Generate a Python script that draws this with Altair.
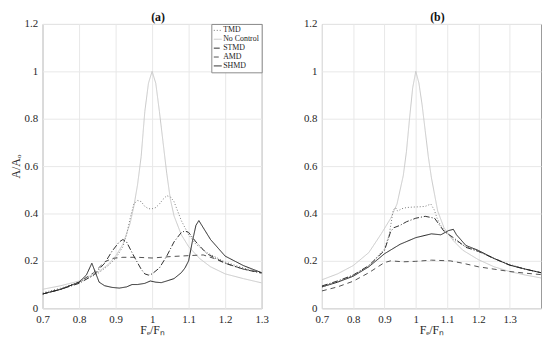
import altair as alt
import pandas as pd

SERIES_ORDER = ["TMD", "No Control", "STMD", "AMD", "SHMD"]
DRAW_ORDER = ["No Control", "TMD", "AMD", "STMD", "SHMD"]
COLORS = ["#7a7a7a", "#c8c8c8", "#303030", "#505050", "#202020"]
DASHES = [[1, 2], [1, 0], [6, 2, 1, 2], [5, 4], [1, 0]]
WIDTHS = [1.0, 1.0, 1.2, 1.0, 1.5]

PANEL_TITLES = ["(a)", "(b)"]

# ---- panel (a) ----
a_nc_x = [0.70, 0.75, 0.80, 0.85, 0.88, 0.90, 0.92, 0.94, 0.95, 0.96, 0.97, 0.98, 0.99, 1.00,
          1.01, 1.02, 1.03, 1.04, 1.05, 1.06, 1.08, 1.10, 1.13, 1.16, 1.20, 1.25, 1.30]
a_nc_y = [0.08, 0.095, 0.115, 0.15, 0.185, 0.22, 0.27, 0.36, 0.43, 0.52, 0.64, 0.83, 0.95, 1.00,
          0.95, 0.83, 0.70, 0.57, 0.46, 0.39, 0.31, 0.26, 0.21, 0.175, 0.145, 0.125, 0.107]

a_tmd_x = [0.70, 0.75, 0.80, 0.85, 0.88, 0.90, 0.92, 0.93, 0.94, 0.95, 0.96, 0.97, 0.98, 0.99, 1.00,
           1.01, 1.02, 1.03, 1.04, 1.05, 1.06, 1.07, 1.08, 1.10, 1.12, 1.15, 1.20, 1.25, 1.30]
a_tmd_y = [0.065, 0.085, 0.11, 0.145, 0.18, 0.21, 0.26, 0.31, 0.38, 0.44, 0.455, 0.45, 0.43, 0.42, 0.42,
           0.425, 0.44, 0.46, 0.475, 0.47, 0.45, 0.41, 0.37, 0.31, 0.27, 0.235, 0.195, 0.17, 0.15]

a_stmd_x = [0.70, 0.75, 0.80, 0.84, 0.87, 0.89, 0.91, 0.92, 0.93, 0.95, 0.97, 0.98, 0.99, 1.00,
            1.02, 1.04, 1.06, 1.08, 1.09, 1.10, 1.12, 1.15, 1.20, 1.25, 1.30]
a_stmd_y = [0.06, 0.08, 0.105, 0.14, 0.19, 0.24, 0.28, 0.29, 0.28, 0.22, 0.165, 0.145, 0.14, 0.145,
            0.17, 0.22, 0.28, 0.32, 0.326, 0.32, 0.28, 0.23, 0.19, 0.165, 0.148]

a_amd_x = [0.70, 0.75, 0.80, 0.84, 0.87, 0.89, 0.92, 0.96, 1.00, 1.05, 1.10, 1.14, 1.17, 1.20, 1.25, 1.30]
a_amd_y = [0.06, 0.08, 0.11, 0.15, 0.195, 0.21, 0.215, 0.215, 0.212, 0.218, 0.222, 0.225, 0.21, 0.19, 0.165, 0.15]

a_shmd_x = [0.70, 0.75, 0.80, 0.82, 0.835, 0.845, 0.855, 0.87, 0.89, 0.91, 0.93, 0.945, 0.96, 0.98,
            0.995, 1.01, 1.025, 1.04, 1.06, 1.08, 1.09, 1.10, 1.11, 1.12, 1.128, 1.14, 1.16, 1.20, 1.25, 1.30]
a_shmd_y = [0.06, 0.08, 0.11, 0.14, 0.19, 0.15, 0.11, 0.095, 0.088, 0.085, 0.09, 0.10, 0.10, 0.105,
            0.115, 0.11, 0.108, 0.115, 0.125, 0.15, 0.17, 0.20, 0.28, 0.35, 0.37, 0.34, 0.29, 0.22, 0.18, 0.15]

# ---- panel (b) ----
b_nc_x = [0.70, 0.75, 0.80, 0.85, 0.89, 0.92, 0.94, 0.96, 0.97, 0.98, 0.99, 1.00, 1.01, 1.02, 1.03,
          1.04, 1.05, 1.07, 1.09, 1.12, 1.15, 1.20, 1.25, 1.30, 1.35, 1.40]
b_nc_y = [0.12, 0.145, 0.18, 0.235, 0.315, 0.38, 0.44, 0.56, 0.66, 0.80, 0.93, 1.00, 0.95, 0.86, 0.75,
          0.64, 0.55, 0.41, 0.34, 0.285, 0.245, 0.205, 0.175, 0.155, 0.14, 0.128]

b_tmd_x = [0.70, 0.75, 0.80, 0.85, 0.90, 0.915, 0.928, 0.935, 0.942, 0.955, 0.97, 0.99, 1.01, 1.03,
           1.048, 1.059, 1.068, 1.075, 1.09, 1.12, 1.16, 1.20, 1.25, 1.30, 1.35, 1.40]
b_tmd_y = [0.09, 0.11, 0.14, 0.18, 0.25, 0.31, 0.415, 0.425, 0.41, 0.42, 0.425, 0.427, 0.428, 0.43,
           0.44, 0.415, 0.38, 0.36, 0.33, 0.29, 0.26, 0.24, 0.21, 0.185, 0.165, 0.15]

b_stmd_x = [0.70, 0.75, 0.80, 0.85, 0.90, 0.92, 0.93, 0.95, 0.97, 1.00, 1.03, 1.06, 1.09, 1.12,
            1.16, 1.20, 1.25, 1.30, 1.35, 1.40]
b_stmd_y = [0.094, 0.115, 0.14, 0.18, 0.244, 0.325, 0.34, 0.35, 0.365, 0.38, 0.388, 0.38, 0.325, 0.298,
            0.257, 0.24, 0.21, 0.182, 0.165, 0.15]

b_amd_x = [0.70, 0.75, 0.80, 0.85, 0.90, 0.92, 0.96, 1.00, 1.05, 1.11, 1.15, 1.20, 1.25, 1.30, 1.35, 1.40]
b_amd_y = [0.073, 0.09, 0.114, 0.15, 0.193, 0.20, 0.196, 0.198, 0.203, 0.20, 0.19, 0.175, 0.165, 0.155, 0.148, 0.142]

b_shmd_x = [0.70, 0.75, 0.80, 0.85, 0.90, 0.95, 1.00, 1.05, 1.08, 1.105, 1.12, 1.13, 1.16, 1.20,
            1.25, 1.30, 1.35, 1.40]
b_shmd_y = [0.09, 0.11, 0.135, 0.175, 0.23, 0.27, 0.298, 0.314, 0.31, 0.328, 0.333, 0.31, 0.265, 0.244,
            0.21, 0.182, 0.165, 0.15]

X_TICKS = [0.7, 0.8, 0.9, 1.0, 1.1, 1.2, 1.3]
Y_TICKS = [0.0, 0.2, 0.4, 0.6, 0.8, 1.0, 1.2]


def build(series):
    rows = []
    for name in DRAW_ORDER:
        xs, ys = series[name]
        for i, (x, y) in enumerate(zip(xs, ys)):
            rows.append({"r": x, "A": y, "series": name, "idx": i})
    return pd.DataFrame(rows)


df_a = build({"No Control": (a_nc_x, a_nc_y), "TMD": (a_tmd_x, a_tmd_y),
              "STMD": (a_stmd_x, a_stmd_y), "AMD": (a_amd_x, a_amd_y),
              "SHMD": (a_shmd_x, a_shmd_y)})
df_b = build({"No Control": (b_nc_x, b_nc_y), "TMD": (b_tmd_x, b_tmd_y),
              "STMD": (b_stmd_x, b_stmd_y), "AMD": (b_amd_x, b_amd_y),
              "SHMD": (b_shmd_x, b_shmd_y)})

FONT = "Liberation Serif"
W, H = 222, 288


def panel(df, xmax, title, ytitle, show_legend):
    if show_legend:
        leg = alt.Legend(title=None, orient="top-right", offset=0, padding=2,
                         strokeColor="#8a8a8a", fillColor="white",
                         labelFont=FONT, labelFontSize=8, labelColor="#222",
                         symbolType="stroke", symbolSize=64, rowPadding=0,
                         labelOffset=1, labelLimit=80)
    else:
        leg = None
    x = alt.X("r:Q", scale=alt.Scale(domain=[0.7, xmax], nice=False, zero=False),
              axis=alt.Axis(values=X_TICKS, format="~g", title="Fₑ/Fₙ", labelFlush=False,
                            titleFontWeight="normal", titleFontSize=12, titlePadding=1,
                            labelPadding=5, labelFont=FONT, titleFont=FONT))
    y = alt.Y("A:Q", scale=alt.Scale(domain=[0, 1.2], nice=False),
              axis=alt.Axis(values=Y_TICKS, format="~g", title=ytitle, labelFlush=False,
                            titleFontWeight="normal", titleFontSize=12, titlePadding=2,
                            labelPadding=5, labelFont=FONT, titleFont=FONT))
    lines = alt.Chart(df).mark_line(clip=True).encode(
        x=x, y=y,
        color=alt.Color("series:N", scale=alt.Scale(domain=SERIES_ORDER, range=COLORS), legend=leg),
        strokeDash=alt.StrokeDash("series:N", scale=alt.Scale(domain=SERIES_ORDER, range=DASHES), legend=leg),
        strokeWidth=alt.StrokeWidth("series:N", scale=alt.Scale(domain=SERIES_ORDER, range=WIDTHS), legend=leg),
        order="idx:Q",
    )
    label = alt.Chart(pd.DataFrame({"t": [title]})).mark_text(
        font=FONT, fontSize=12, fontWeight="bold", color="#111",
        baseline="alphabetic", align="center"
    ).encode(text="t:N", x=alt.value(W / 2 + 6), y=alt.value(-3))
    return alt.layer(lines, label).properties(width=W, height=H)


left = panel(df_a, 1.3, PANEL_TITLES[0], "A/Aₒ", True)
right = panel(df_b, 1.4, PANEL_TITLES[1], None, False)

chart = alt.hconcat(left, right, spacing=61, bounds="flush").resolve_legend(
    color="independent", strokeDash="independent", strokeWidth="independent"
).configure(
    padding={"left": 0, "top": 0, "right": 0, "bottom": 0},
    font=FONT,
).configure_view(
    stroke="#9a9a9a", strokeWidth=1
).configure_axis(
    domain=False, ticks=False, tickSize=0,
    grid=True, gridColor="#e8e8e8", gridWidth=1,
    labelFont=FONT, labelFontSize=11, labelColor="#262626",
    titleFont=FONT, titleColor="#262626",
)

chart.save("out.html", embed_options={"renderer": "svg", "actions": False})
